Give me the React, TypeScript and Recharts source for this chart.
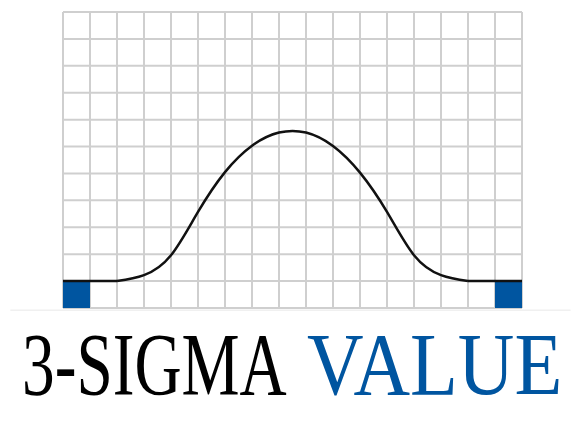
import { CartesianGrid, ComposedChart, Line, ReferenceArea, ReferenceLine, XAxis, YAxis } from 'recharts';

// bell curve at each cell line (x in cells, y in cells)
const curveX = [0, 1, 2, 3, 4, 5, 6, 7, 8, 9, 10, 11, 12, 13, 14, 15, 16, 17];
const curveY = [1, 1, 1, 1.22, 1.96, 3.57, 5.05, 6.03, 6.52, 6.52, 6.02, 5.03, 3.57, 1.96, 1.22, 1, 1, 1];
// the bell itself runs from cell line 2 to 15; outside it the line is flat
const bellFrom = 2;
const bellTo = 15;

const xTicks = [0, 1, 2, 3, 4, 5, 6, 7, 8, 9, 10, 11, 12, 13, 14, 15, 16, 17];
const yTicks = [0, 1, 2, 3, 4, 5, 6, 7, 8, 9, 10, 11];

// the two filled corner cells
const tailStart = [0, 16];
const tailEnd = [1, 17];

const titleLeft = '3-SIGMA';
const titleRight = 'VALUE';

const data = curveX.map((x, i) => ({
    x,
    bell: x >= bellFrom && x <= bellTo ? curveY[i] : null,
    tail: x <= bellFrom || x >= bellTo ? curveY[i] : null,
}));

const BLUE = '#0055a0';

const App = () => {
    return (
        <div style={{ position: 'absolute', left: 0, top: 0, width: 573, height: 424, background: '#fff' }}>
            <ComposedChart
                width={573}
                height={424}
                data={data}
                margin={{ top: 12, right: 51, left: 63, bottom: 116 }}
            >
                <XAxis type="number" dataKey="x" domain={[0, 17]} ticks={xTicks} hide />
                <YAxis type="number" domain={[0, 11]} ticks={yTicks} hide />
                <CartesianGrid stroke="#cfcfcf" strokeWidth={2} />
                <ReferenceLine
                    segment={[{ x: -1.95, y: -0.08 }, { x: 18.8, y: -0.08 }]}
                    stroke="#f0f0f0"
                    strokeWidth={1.5}
                    ifOverflow="visible"
                />
                {tailStart.map((s, i) => (
                    <ReferenceArea
                        key={s}
                        x1={s}
                        x2={tailEnd[i]}
                        y1={0}
                        y2={1}
                        fill={BLUE}
                        fillOpacity={1}
                        stroke="none"
                    />
                ))}
                <Line
                    type="linear"
                    dataKey="tail"
                    stroke="#111"
                    strokeWidth={2.5}
                    dot={false}
                    isAnimationActive={false}
                />
                <Line
                    type="natural"
                    dataKey="bell"
                    stroke="#111"
                    strokeWidth={2.5}
                    dot={false}
                    isAnimationActive={false}
                />
            </ComposedChart>
            <svg width={573} height={110} style={{ position: 'absolute', left: 0, top: 314 }}>
                <g transform="translate(22,80) scale(0.742,1)">
                    <text x={0} y={0} fontFamily="'Liberation Serif', serif" fontSize={88} fill="#000">
                        {titleLeft}
                    </text>
                </g>
                <g transform="translate(307,80) scale(0.89,1)">
                    <text x={0} y={0} fontFamily="'Liberation Serif', serif" fontSize={88} fill={BLUE}>
                        {titleRight}
                    </text>
                </g>
            </svg>
        </div>
    );
};

export default App;
